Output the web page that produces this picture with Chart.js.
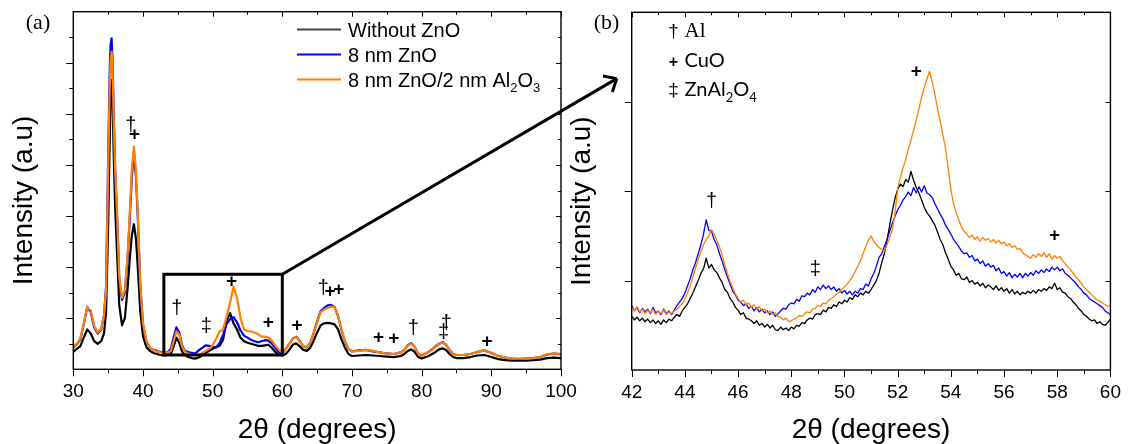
<!DOCTYPE html>
<html>
<head>
<meta charset="utf-8">
<title>XRD patterns</title>
<script src="https://cdn.jsdelivr.net/npm/chart.js@4.4.1/dist/chart.umd.min.js"></script>
<style>
  html, body { margin: 0; padding: 0; background: #fff; }
  #wrap { position: relative; width: 1132px; height: 444px; overflow: hidden; }
  #chartA { position: absolute; left: 0; top: 0; }
  #chartB { position: absolute; left: 564px; top: 0; }
</style>
</head>
<body>
<div id="wrap">
  <canvas id="chartA" width="1132" height="444"></canvas>
  <canvas id="chartB" width="568" height="444"></canvas>
</div>
<script>
// ---------- panel (a): full scan, 2theta 30-100 ----------
const thetaA = [
  30, 30.5, 31, 31.5, 32, 32.5, 33, 33.5, 34, 34.4,
  34.7, 35, 35.2, 35.35, 35.5, 35.65, 35.8, 36, 36.3, 36.6,
  37, 37.4, 37.8, 38.1, 38.4, 38.7, 39, 39.3, 39.6, 40,
  40.5, 41, 41.5, 42, 42.5, 43, 43.5, 44, 44.4, 44.8,
  45.2, 45.6, 46, 46.5, 47, 47.5, 48, 48.5, 49, 49.5,
  50, 50.5, 51, 51.5, 52, 52.5, 53, 53.5, 54, 54.5,
  55, 55.5, 56, 56.5, 57, 57.5, 58, 58.5, 59, 59.5,
  60, 60.5, 61, 61.5, 62, 62.5, 63, 63.5, 64, 64.5,
  65, 65.5, 66, 66.5, 67, 67.5, 68, 68.5, 69, 69.5,
  70, 71, 72, 73, 74, 75, 76, 77, 77.5, 78,
  78.5, 79, 79.5, 80, 81, 81.5, 82, 82.5, 83, 83.5,
  84, 84.5, 85, 86, 87, 88, 89, 90, 91, 92,
  93, 94, 95, 96, 97, 98, 99, 100
];
const blackA = [
  0.34, 0.40, 0.45, 0.62, 0.78, 0.70, 0.55, 0.50, 0.55, 0.70,
  1.10, 2.80, 4.30, 5.30, 5.66, 5.20, 4.20, 3.20, 2.20, 1.25,
  0.86, 1.00, 1.60, 2.15, 2.62, 2.84, 2.55, 1.90, 1.15, 0.65,
  0.43, 0.36, 0.32, 0.30, 0.28, 0.27, 0.28, 0.30, 0.45, 0.62,
  0.52, 0.35, 0.28, 0.24, 0.22, 0.21, 0.23, 0.27, 0.32, 0.36,
  0.40, 0.43, 0.46, 0.58, 0.95, 1.10, 0.90, 0.78, 0.62, 0.55,
  0.52, 0.50, 0.48, 0.46, 0.46, 0.47, 0.48, 0.42, 0.34, 0.28,
  0.27, 0.30, 0.38, 0.48, 0.51, 0.45, 0.38, 0.36, 0.42, 0.56,
  0.72, 0.86, 0.90, 0.91, 0.90, 0.88, 0.78, 0.58, 0.42, 0.30,
  0.26, 0.27, 0.28, 0.27, 0.26, 0.25, 0.24, 0.26, 0.30, 0.36,
  0.39, 0.34, 0.24, 0.21, 0.26, 0.30, 0.34, 0.39, 0.41, 0.38,
  0.30, 0.24, 0.22, 0.22, 0.24, 0.27, 0.28, 0.24, 0.20, 0.18,
  0.17, 0.17, 0.17, 0.18, 0.19, 0.22, 0.23, 0.22
];
const blueA = [
  0.43, 0.49, 0.58, 0.88, 1.22, 1.12, 0.82, 0.70, 0.78, 1.05,
  1.60, 4.10, 5.70, 6.35, 6.48, 5.95, 5.00, 3.95, 2.95, 1.75,
  1.36, 1.50, 2.18, 2.95, 3.75, 4.26, 3.75, 2.85, 1.68, 0.88,
  0.54, 0.42, 0.38, 0.36, 0.34, 0.33, 0.33, 0.40, 0.62, 0.82,
  0.72, 0.47, 0.36, 0.34, 0.32, 0.31, 0.37, 0.42, 0.47, 0.46,
  0.44, 0.43, 0.51, 0.68, 0.89, 0.98, 1.02, 0.92, 0.76, 0.66,
  0.62, 0.58, 0.55, 0.53, 0.55, 0.57, 0.56, 0.50, 0.42, 0.33,
  0.31, 0.40, 0.50, 0.60, 0.64, 0.55, 0.45, 0.43, 0.52, 0.71,
  0.94, 1.14, 1.20, 1.25, 1.26, 1.22, 1.04, 0.77, 0.54, 0.40,
  0.35, 0.37, 0.38, 0.35, 0.33, 0.31, 0.30, 0.33, 0.38, 0.47,
  0.51, 0.44, 0.30, 0.27, 0.34, 0.39, 0.45, 0.50, 0.53, 0.48,
  0.38, 0.30, 0.28, 0.28, 0.30, 0.34, 0.37, 0.32, 0.26, 0.23,
  0.21, 0.20, 0.21, 0.22, 0.24, 0.29, 0.31, 0.29
];
const orangeA = [
  0.45, 0.50, 0.60, 0.90, 1.22, 1.15, 0.85, 0.72, 0.80, 1.05,
  1.55, 3.90, 5.40, 6.05, 6.22, 5.80, 4.90, 3.95, 3.00, 1.80,
  1.40, 1.55, 2.25, 3.05, 3.90, 4.36, 3.85, 2.90, 1.70, 0.90,
  0.55, 0.42, 0.38, 0.35, 0.33, 0.32, 0.33, 0.36, 0.55, 0.74,
  0.68, 0.45, 0.34, 0.31, 0.29, 0.28, 0.28, 0.32, 0.36, 0.40,
  0.47, 0.60, 0.74, 0.78, 1.03, 1.30, 1.62, 1.40, 1.00, 0.78,
  0.75, 0.74, 0.72, 0.69, 0.64, 0.64, 0.62, 0.56, 0.47, 0.38,
  0.33, 0.40, 0.50, 0.60, 0.63, 0.55, 0.45, 0.43, 0.52, 0.70,
  0.92, 1.12, 1.17, 1.20, 1.23, 1.22, 1.05, 0.78, 0.55, 0.40,
  0.35, 0.36, 0.38, 0.36, 0.33, 0.31, 0.30, 0.33, 0.38, 0.46,
  0.50, 0.44, 0.30, 0.26, 0.34, 0.38, 0.44, 0.50, 0.52, 0.48,
  0.38, 0.30, 0.28, 0.28, 0.30, 0.34, 0.37, 0.32, 0.26, 0.23,
  0.21, 0.21, 0.21, 0.22, 0.24, 0.30, 0.31, 0.30
];

// ---------- panel (b): zoom, 2theta 42-60 ----------
const thetaB = [
  42.0, 42.1, 42.2, 42.3, 42.4, 42.5, 42.6, 42.7, 42.8, 42.9,
  43.0, 43.1, 43.2, 43.3, 43.4, 43.5, 43.6, 43.7, 43.8, 43.9,
  44.0, 44.1, 44.2, 44.3, 44.4, 44.5, 44.6, 44.7, 44.8, 44.9,
  45.0, 45.1, 45.2, 45.3, 45.4, 45.5, 45.6, 45.7, 45.8, 45.9,
  46.0, 46.1, 46.2, 46.3, 46.4, 46.5, 46.6, 46.7, 46.8, 46.9,
  47.0, 47.1, 47.2, 47.3, 47.4, 47.5, 47.6, 47.7, 47.8, 47.9,
  48.0, 48.1, 48.2, 48.3, 48.4, 48.5, 48.6, 48.7, 48.8, 48.9,
  49.0, 49.1, 49.2, 49.3, 49.4, 49.5, 49.6, 49.7, 49.8, 49.9,
  50.0, 50.1, 50.2, 50.3, 50.4, 50.5, 50.6, 50.7, 50.8, 50.9,
  51.0, 51.1, 51.2, 51.3, 51.4, 51.5, 51.6, 51.7, 51.8, 51.9,
  52.0, 52.1, 52.2, 52.3, 52.4, 52.5, 52.6, 52.7, 52.8, 52.9,
  53.0, 53.1, 53.2, 53.3, 53.4, 53.5, 53.6, 53.7, 53.8, 53.9,
  54.0, 54.1, 54.2, 54.3, 54.4, 54.5, 54.6, 54.7, 54.8, 54.9,
  55.0, 55.1, 55.2, 55.3, 55.4, 55.5, 55.6, 55.7, 55.8, 55.9,
  56.0, 56.1, 56.2, 56.3, 56.4, 56.5, 56.6, 56.7, 56.8, 56.9,
  57.0, 57.1, 57.2, 57.3, 57.4, 57.5, 57.6, 57.7, 57.8, 57.9,
  58.0, 58.1, 58.2, 58.3, 58.4, 58.5, 58.6, 58.7, 58.8, 58.9,
  59.0, 59.1, 59.2, 59.3, 59.4, 59.5, 59.6, 59.7, 59.8, 59.9,
  60.0
];
const blackB = [
  0.60, 0.56, 0.59, 0.55, 0.58, 0.54, 0.57, 0.53, 0.56, 0.52,
  0.55, 0.51, 0.56, 0.53, 0.57, 0.55, 0.59, 0.62, 0.60, 0.66,
  0.70, 0.74, 0.80, 0.86, 0.93, 1.00, 1.08, 1.13, 1.25, 1.14,
  1.18, 1.12, 1.09, 1.03, 0.98, 0.90, 0.87, 0.80, 0.76, 0.70,
  0.67, 0.62, 0.64, 0.58, 0.57, 0.55, 0.52, 0.55, 0.50, 0.52,
  0.48, 0.51, 0.47, 0.50, 0.45, 0.44, 0.48, 0.45, 0.47, 0.44,
  0.48, 0.46, 0.50, 0.49, 0.53, 0.52, 0.56, 0.58, 0.57, 0.62,
  0.63, 0.62, 0.67, 0.65, 0.70, 0.69, 0.73, 0.71, 0.76, 0.74,
  0.78, 0.76, 0.81, 0.79, 0.84, 0.82, 0.86, 0.84, 0.88, 0.86,
  0.90, 0.95, 1.00, 1.08, 1.20, 1.30, 1.45, 1.62, 1.78, 1.92,
  2.02, 2.08, 2.05, 2.13, 2.10, 2.22, 2.12, 2.04, 1.98, 1.90,
  1.82, 1.76, 1.72, 1.67, 1.62, 1.54, 1.46, 1.40, 1.31, 1.24,
  1.16, 1.12, 1.06, 1.08, 1.02, 1.01, 1.04, 0.98, 1.00, 0.96,
  0.98, 0.94, 0.97, 0.92, 0.95, 0.93, 0.90, 0.94, 0.89, 0.92,
  0.88, 0.91, 0.86, 0.90, 0.85, 0.88, 0.84, 0.87, 0.85, 0.88,
  0.86, 0.89, 0.86, 0.90, 0.88, 0.91, 0.89, 0.93, 0.91, 0.97,
  0.90, 0.92, 0.87, 0.86, 0.82, 0.80, 0.76, 0.73, 0.69, 0.66,
  0.62, 0.60, 0.57, 0.55, 0.56, 0.52, 0.54, 0.51, 0.50, 0.53,
  0.57
];
const blueB = [
  0.72, 0.66, 0.70, 0.64, 0.69, 0.65, 0.68, 0.63, 0.70, 0.64,
  0.66, 0.62, 0.68, 0.63, 0.66, 0.62, 0.67, 0.72, 0.76, 0.80,
  0.86, 0.94, 1.02, 1.12, 1.20, 1.30, 1.40, 1.52, 1.68, 1.56,
  1.55, 1.46, 1.40, 1.30, 1.22, 1.12, 1.04, 0.96, 0.88, 0.84,
  0.78, 0.76, 0.72, 0.74, 0.69, 0.71, 0.66, 0.70, 0.65, 0.68,
  0.64, 0.66, 0.62, 0.65, 0.60, 0.63, 0.66, 0.69, 0.68, 0.73,
  0.75, 0.74, 0.79, 0.77, 0.83, 0.82, 0.86, 0.84, 0.90, 0.87,
  0.93, 0.90, 0.95, 0.91, 0.94, 0.90, 0.93, 0.88, 0.91, 0.86,
  0.89, 0.85, 0.88, 0.84, 0.88, 0.86, 0.91, 0.90, 0.96, 0.94,
  1.02, 1.08, 1.16, 1.26, 1.30, 1.38, 1.46, 1.55, 1.64, 1.72,
  1.79, 1.84, 1.90, 1.94, 1.99, 1.95, 2.04, 1.98, 2.05, 1.99,
  2.06, 1.98, 1.96, 1.93, 1.86, 1.80, 1.74, 1.69, 1.62, 1.57,
  1.52, 1.46, 1.42, 1.38, 1.33, 1.30, 1.31, 1.26, 1.28, 1.22,
  1.24, 1.19, 1.22, 1.16, 1.19, 1.15, 1.17, 1.11, 1.14, 1.08,
  1.10, 1.05, 1.09, 1.03, 1.07, 1.04, 1.08, 1.03, 1.08, 1.05,
  1.09, 1.06, 1.11, 1.08, 1.12, 1.09, 1.13, 1.10, 1.15, 1.12,
  1.15, 1.11, 1.13, 1.08, 1.06, 1.03, 1.00, 0.97, 0.93, 0.90,
  0.86, 0.84, 0.80, 0.78, 0.76, 0.74, 0.72, 0.70, 0.66, 0.64,
  0.62
];
const orangeB = [
  0.70, 0.66, 0.71, 0.65, 0.68, 0.63, 0.67, 0.64, 0.68, 0.62,
  0.66, 0.63, 0.67, 0.62, 0.65, 0.63, 0.66, 0.68, 0.71, 0.74,
  0.79, 0.86, 0.94, 1.04, 1.14, 1.23, 1.32, 1.40, 1.46, 1.50,
  1.57, 1.52, 1.45, 1.38, 1.28, 1.18, 1.08, 0.99, 0.92, 0.85,
  0.80, 0.76, 0.78, 0.73, 0.75, 0.70, 0.73, 0.68, 0.71, 0.66,
  0.68, 0.64, 0.66, 0.62, 0.64, 0.60, 0.59, 0.56, 0.58, 0.54,
  0.55, 0.57, 0.58, 0.61, 0.60, 0.63, 0.65, 0.64, 0.68, 0.69,
  0.72, 0.71, 0.75, 0.74, 0.78, 0.80, 0.82, 0.85, 0.87, 0.90,
  0.93, 0.96, 1.00, 1.04, 1.10, 1.16, 1.22, 1.30, 1.38, 1.45,
  1.50, 1.44, 1.40, 1.37, 1.35, 1.33, 1.40, 1.48, 1.57, 1.75,
  2.03, 2.15, 2.26, 2.35, 2.47, 2.57, 2.68, 2.80, 2.92, 3.05,
  3.16, 3.26, 3.34, 3.22, 3.08, 2.92, 2.78, 2.63, 2.48, 2.25,
  2.02, 1.86, 1.76, 1.68, 1.60, 1.55, 1.52, 1.48, 1.51, 1.46,
  1.49, 1.44, 1.48, 1.45, 1.47, 1.43, 1.46, 1.42, 1.45, 1.41,
  1.43, 1.39, 1.41, 1.37, 1.39, 1.35, 1.36, 1.31, 1.29, 1.27,
  1.25, 1.29, 1.26, 1.30, 1.27, 1.31, 1.26, 1.30, 1.24, 1.28,
  1.25, 1.27, 1.22, 1.19, 1.15, 1.12, 1.08, 1.04, 1.01, 0.97,
  0.93, 0.90, 0.87, 0.84, 0.81, 0.78, 0.77, 0.75, 0.73, 0.71,
  0.72
];

const seriesNames = ['Without ZnO', '8 nm ZnO', '8 nm ZnO/2 nm Al_2O_3'];
const seriesColors = ['#000000', '#0000ff', '#ff8000'];

// phase markers (symbol, 2theta, height)
const markA = ['†', '+', '†', '‡', '+', '+', '+', '†', '+', '+', '+', '+', '†', '‡', '†', '+'];
const markXA = [38.25, 38.8, 44.85, 49.1, 52.7, 58.0, 62.1, 65.9, 66.85, 68.1, 73.8, 76.0, 78.8, 83.15, 83.55, 89.4];
const markYA = [4.78, 4.59, 1.20, 0.83, 1.71, 0.91, 0.85, 1.59, 1.51, 1.55, 0.61, 0.59, 0.79, 0.73, 0.89, 0.53];
const markB = ['†', '‡', '+', '+'];
const markXB = [45.0, 48.9, 52.7, 57.9];
const markYB = [1.88, 1.12, 3.34, 1.50];

const SANS = "'Liberation Sans', Arial, sans-serif";
const SERIF = "'Liberation Serif', 'Times New Roman', serif";
const LEG = "Lato, 'Open Sans', sans-serif";

// text with "_2" style subscripts, y is the baseline
function richText(ctx, text, x, y, size, family) {
    const parts = text.split(/_(\d)/);
    let cx = x;
    parts.forEach((part, i) => {
        if (!part) return;
        const sub = i % 2 === 1;
        ctx.font = (sub ? Math.round(size * 0.65) : size) + 'px ' + family;
        ctx.fillText(part, cx, sub ? y + size * 0.28 : y);
        cx += ctx.measureText(part).width;
    });
}

// box frame with outward ticks (bottom/left) and inward ticks (top/right)
const frame = {
    id: 'frame',
    afterDatasetsDraw(chart, args, o) {
        const { ctx, chartArea: a, scales: { x, y } } = chart;
        const isMajor = (v, m) => Math.abs(v / m - Math.round(v / m)) < 1e-6;
        ctx.save();
        ctx.strokeStyle = '#000';
        ctx.lineWidth = 1;
        ctx.beginPath();
        for (let v = x.min; v <= x.max + 1e-6; v += o.xStep) {
            const p = Math.round(x.getPixelForValue(v)) + 0.5;
            const big = isMajor(v, o.xMajor);
            ctx.moveTo(p, a.bottom); ctx.lineTo(p, a.bottom + (big ? 7 : 4));
            ctx.moveTo(p, a.top); ctx.lineTo(p, a.top + (big ? 5 : 3));
        }
        for (let v = y.min + o.yStep; v < y.max - 1e-6; v += o.yStep) {
            const p = Math.round(y.getPixelForValue(v)) + 0.5;
            const big = isMajor(v, o.yMajor);
            ctx.moveTo(a.left, p); ctx.lineTo(a.left - (big ? 7 : 4), p);
            ctx.moveTo(a.right, p); ctx.lineTo(a.right - (big ? 5 : 3), p);
        }
        ctx.stroke();
        ctx.lineWidth = 1.4;
        ctx.strokeRect(a.left, a.top, a.right - a.left, a.bottom - a.top);
        ctx.restore();
    }
};

const marks = {
    id: 'marks',
    afterDatasetsDraw(chart, args, o) {
        const { ctx, scales: { x, y } } = chart;
        ctx.save();
        ctx.fillStyle = '#000';
        ctx.textAlign = 'center';
        ctx.textBaseline = 'middle';
        o.sym.forEach((s, i) => {
            ctx.font = (s === '+' ? 'bold 19px ' : '20px ') + SANS;
            ctx.fillText(s, x.getPixelForValue(o.xs[i]), y.getPixelForValue(o.ys[i]));
        });
        ctx.restore();
    }
};

// rectangle marking the zoomed range, arrow pointing to panel (b)
const zoomBox = {
    id: 'zoomBox',
    afterDatasetsDraw(chart, args, o) {
        const { ctx, scales: { x, y } } = chart;
        const x0 = x.getPixelForValue(o.x0), x1 = x.getPixelForValue(o.x1);
        const y0 = y.getPixelForValue(o.y0), y1 = y.getPixelForValue(o.y1);
        const tx = x.getPixelForValue(o.tipX), ty = y.getPixelForValue(o.tipY);
        const ang = Math.atan2(ty - y1, tx - x1);
        ctx.save();
        ctx.strokeStyle = '#000';
        ctx.lineWidth = 3;
        ctx.strokeRect(x0, y1, x1 - x0, y0 - y1);
        ctx.beginPath();
        ctx.moveTo(x1, y1);
        ctx.lineTo(tx, ty);
        [-0.72, 0.72].forEach(d => {
            ctx.moveTo(tx, ty);
            ctx.lineTo(tx - 14 * Math.cos(ang + d), ty - 14 * Math.sin(ang + d));
        });
        ctx.stroke();
        ctx.restore();
    }
};

const legendA = {
    id: 'legendA',
    afterDraw(chart) {
        const { ctx } = chart;
        ctx.save();
        chart.data.datasets.forEach((ds, i) => {
            const ly = 29.5 + i * 25;
            ctx.strokeStyle = i === 0 ? '#444' : ds.borderColor;
            ctx.lineWidth = 1.8;
            ctx.beginPath(); ctx.moveTo(297, ly); ctx.lineTo(341, ly); ctx.stroke();
            ctx.fillStyle = '#000';
            ctx.textAlign = 'left';
            ctx.textBaseline = 'alphabetic';
            richText(ctx, ds.label, 348, ly + 7.3, 20, SANS);
        });
        ctx.restore();
    }
};

const legendB = {
    id: 'legendB',
    afterDraw(chart) {
        const { ctx } = chart;
        const rows = [['†', 'Al', SERIF, 21, 37], ['+', 'CuO', LEG, 20, 67], ['‡', 'ZnAl_2O_4', LEG, 20, 96]];
        ctx.save();
        ctx.fillStyle = '#000';
        rows.forEach(([s, txt, fam, size, base]) => {
            ctx.textAlign = 'center';
            ctx.textBaseline = 'alphabetic';
            ctx.font = (s === '+' ? 'bold 16px ' : '19px ') + SANS;
            ctx.fillText(s, 109.5, base);
            ctx.textAlign = 'left';
            richText(ctx, txt, 120.5, base, size, fam);
        });
        ctx.restore();
    }
};

// panel letter and rotated y title
const panelText = {
    id: 'panelText',
    afterDraw(chart, args, o) {
        const { ctx, chartArea: a } = chart;
        ctx.save();
        ctx.fillStyle = '#000';
        ctx.textAlign = 'center';
        ctx.textBaseline = 'middle';
        ctx.font = '22px ' + SERIF;
        ctx.fillText(o.letter, o.letterX, 23);
        ctx.translate(o.titleX, (a.top + a.bottom) / 2 + 10);
        ctx.rotate(-Math.PI / 2);
        ctx.font = '28px ' + SANS;
        ctx.fillText('Intensity (a.u)', 0, 0);
        ctx.restore();
    }
};

function lineSets(theta, ys, width) {
    return ys.map((vals, i) => ({
        label: seriesNames[i],
        data: theta.map((t, j) => ({ x: t, y: vals[j] })),
        borderColor: seriesColors[i],
        borderWidth: width,
        borderJoinStyle: 'round',
        pointRadius: 0,
        fill: false,
        order: 3 - i
    }));
}

function xAxis(min, max, step, height) {
    return {
        type: 'linear', min: min, max: max,
        grid: { display: false, drawTicks: false },
        border: { display: false },
        ticks: { stepSize: step, color: '#000', font: { size: 19, family: SANS }, padding: 11, maxRotation: 0 },
        title: { display: true, text: '2θ (degrees)', color: '#000', font: { size: 28, family: SANS, lineHeight: 1 }, padding: 0 },
        afterFit: s => { s.height = height; }
    };
}

function yAxis(max, width) {
    return {
        type: 'linear', min: 0, max: max,
        grid: { display: false, drawTicks: false },
        border: { display: false },
        ticks: { display: false },
        afterFit: s => { s.width = width; }
    };
}

new Chart(document.getElementById('chartA'), {
    type: 'line',
    data: { datasets: lineSets(thetaA, [blackA, blueA, orangeA], 2.2) },
    options: {
        responsive: false,
        animation: false,
        layout: { padding: { left: 0, right: 571, top: 11.7, bottom: 0 } },
        scales: { x: xAxis(30, 100, 10, 74.7), y: yAxis(7, 73.3) },
        plugins: {
            legend: { display: false },
            tooltip: { enabled: false },
            frame: { xStep: 5, xMajor: 10, yStep: 0.5, yMajor: 1 },
            marks: { sym: markA, xs: markXA, ys: markYA },
            zoomBox: { x0: 43, x1: 60, y0: 0.28, y1: 1.86, tipX: 108, tipY: 5.69 },
            panelText: { letter: '(a)', letterX: 38, titleX: 24.5 }
        }
    },
    plugins: [frame, marks, zoomBox, legendA, panelText]
});

new Chart(document.getElementById('chartB'), {
    type: 'line',
    data: { datasets: lineSets(thetaB, [blackB, blueB, orangeB], 1.3) },
    options: {
        responsive: false,
        animation: false,
        layout: { padding: { left: 0, right: 13.3, top: 12.3, bottom: 0 } },
        scales: { x: xAxis(42, 60, 2, 74), y: yAxis(4, 67.7) },
        plugins: {
            legend: { display: false },
            tooltip: { enabled: false },
            frame: { xStep: 1, xMajor: 2, yStep: 1, yMajor: 1 },
            marks: { sym: markB, xs: markXB, ys: markYB },
            panelText: { letter: '(b)', letterX: 42.5, titleX: 18.5 }
        }
    },
    plugins: [frame, marks, legendB, panelText]
});
</script>
</body>
</html>
